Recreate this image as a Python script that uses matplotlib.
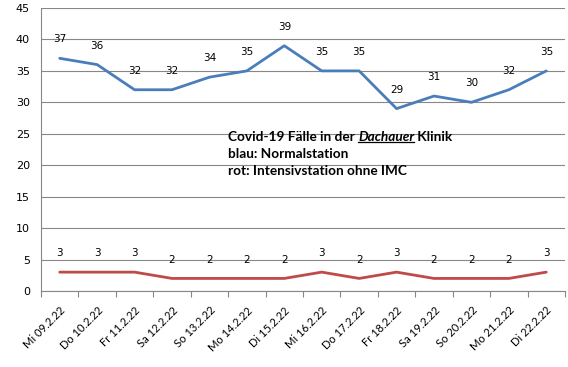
import matplotlib
matplotlib.use('Agg')
from matplotlib import pyplot as plt
from matplotlib.lines import Line2D

days = ['Mi 09.2.22', 'Do 10.2.22', 'Fr 11.2.22', 'Sa 12.2.22', 'So 13.2.22', 'Mo 14.2.22', 'Di 15.2.22',
        'Mi 16.2.22', 'Do 17.2.22', 'Fr 18.2.22', 'Sa 19.2.22', 'So 20.2.22', 'Mo 21.2.22', 'Di 22.2.22']
normal = [37, 36, 32, 32, 34, 35, 39, 35, 35, 29, 31, 30, 32, 35]
intensiv = [3, 3, 3, 2, 2, 2, 2, 3, 2, 3, 2, 2, 2, 3]

W, H = 568, 367
fig = plt.figure(figsize=(W / 100, H / 100), dpi=100)
ax = fig.add_axes([41 / W, (H - 291) / H, 524 / W, 283 / H])

x = list(range(len(days)))
ax.plot(x, normal, color='#4a7ebb', lw=2.0, solid_capstyle='round', zorder=3)
ax.plot(x, intensiv, color='#be4b48', lw=2.0, solid_capstyle='round', zorder=3)

for xi, v in zip(x, normal):
    ax.annotate(str(v), (xi, v), xytext=(0, 10), textcoords='offset points',
                ha='center', va='bottom', fontsize=7.5, family='DejaVu Sans')
for xi, v in zip(x, intensiv):
    ax.annotate(str(v), (xi, v), xytext=(0, 10), textcoords='offset points',
                ha='center', va='bottom', fontsize=7.5, family='DejaVu Sans')

ax.set_xlim(-0.5, len(days) - 0.5)
ax.set_ylim(0, 45)
ax.set_yticks(range(0, 46, 5))
ax.grid(axis='y', color='#878787', lw=0.8)
ax.set_axisbelow(True)

for s in ['top', 'right']:
    ax.spines[s].set_visible(False)
for s in ['left', 'bottom']:
    ax.spines[s].set_color('#878787')
    ax.spines[s].set_linewidth(0.8)

# ticks on the category boundaries, labels centred under the points
ax.set_xticks([i - 0.5 for i in range(len(days) + 1)])
ax.set_xticklabels([])
ax.set_xticks(x, minor=True)
ax.set_xticklabels(days, minor=True, rotation=45, ha='right', rotation_mode='anchor',
                   fontsize=8, family='Lato')
ax.tick_params(axis='x', which='major', length=4, color='#878787', width=0.8)
ax.tick_params(axis='x', which='minor', length=0, pad=10)
ax.tick_params(axis='y', length=0, labelsize=8, pad=8)
for lab in ax.get_yticklabels():
    lab.set_family('DejaVu Sans')

fs = 9.8
t1 = ax.text(0.357, 0.53, 'Covid-19 Fälle in der ', transform=ax.transAxes,
             fontsize=fs, fontweight='bold', family='Lato', va='baseline')
t2 = ax.annotate('Dachauer', xy=(1, 0), xycoords=t1, va='bottom',
                 fontsize=fs, fontweight='bold', style='italic', family='Lato')
t3 = ax.annotate(' Klinik', xy=(1, 0), xycoords=t2, va='bottom',
                 fontsize=fs, fontweight='bold', family='Lato')
ax.text(0.357, 0.47, 'blau: Normalstation', transform=ax.transAxes,
        fontsize=fs, fontweight='bold', family='Lato', va='baseline')
ax.text(0.357, 0.41, 'rot: Intensivstation ohne IMC', transform=ax.transAxes,
        fontsize=fs, fontweight='bold', family='Lato', va='baseline')

fig.canvas.draw()
bb = t2.get_window_extent()
y0 = bb.y0 + 1
fig.add_artist(Line2D([bb.x0 / W, bb.x1 / W], [y0 / H, y0 / H], color='black', lw=0.9))

fig.savefig('out.png', dpi=100)
